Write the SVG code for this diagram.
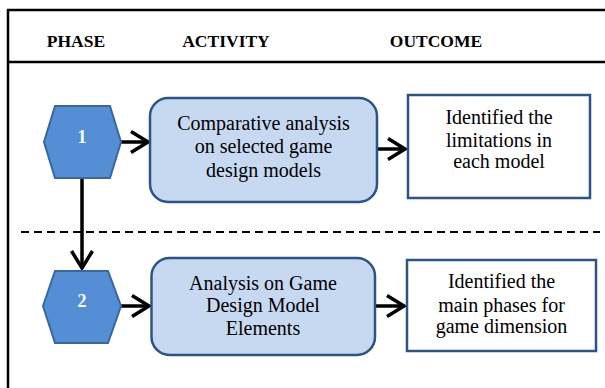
<svg xmlns="http://www.w3.org/2000/svg" width="605" height="388" viewBox="0 0 605 388">
  <style>
    text { font-family: 'Liberation Serif', 'DejaVu Serif', 'Times New Roman', Times, serif; }
    .hdr { font-weight: bold; font-size: 17.5px; fill: #000; text-anchor: middle; }
    .txt { font-size: 20px; fill: #000; text-anchor: middle; }
    .num { font-weight: bold; font-size: 18px; fill: #fff; text-anchor: middle; }
    .hex { fill: #558ED5; stroke: #3B669E; stroke-width: 2; }
    .act { fill: #C6D9F1; stroke: #2E5387; stroke-width: 2.5; }
    .out { fill: #fff; stroke: #2E5387; stroke-width: 2.5; }
    .frame { fill: none; stroke: #000; stroke-width: 2.5; }
    .conn { fill: none; stroke: #000; stroke-width: 3.5; marker-end: url(#chev); }
  </style>
  <defs>
    <marker id="chev" markerUnits="userSpaceOnUse" viewBox="0 0 22 26" markerWidth="22" markerHeight="26" refX="19" refY="13" orient="auto">
      <path d="M2,2.5 L19,13 L2,23.5" fill="none" stroke="#000" stroke-width="3.5" stroke-linejoin="miter"/>
    </marker>
  </defs>
  <rect x="0" y="0" width="605" height="388" fill="#fff"/>
  <g id="frame">
    <path class="frame" d="M605,10 L8,10 L8,388"/>
    <line class="frame" x1="8" y1="62" x2="605" y2="62"/>
    <line x1="21" y1="232" x2="600" y2="232" stroke="#000" stroke-width="2" stroke-dasharray="8,5"/>
  </g>
  <g id="headers">
    <text class="hdr" x="76" y="47">PHASE</text>
    <text class="hdr" x="226" y="47">ACTIVITY</text>
    <text class="hdr" x="436" y="47">OUTCOME</text>
  </g>
  <g id="connectors">
    <line class="conn" x1="121" y1="142" x2="148" y2="142"/>
    <line class="conn" x1="377" y1="149" x2="405" y2="149"/>
    <line class="conn" x1="82" y1="178" x2="82" y2="268"/>
    <line class="conn" x1="121" y1="306" x2="149" y2="306"/>
    <line class="conn" x1="376" y1="306" x2="404" y2="306"/>
  </g>
  <g id="phase1">
    <polygon class="hex" points="44,142 55,106 110,106 121,142 110,178 55,178"/>
    <text class="num" x="82" y="143">1</text>
  </g>
  <g id="activity1">
    <rect class="act" x="150" y="98" width="227" height="104" rx="18" ry="18"/>
    <text class="txt" x="263.5" y="130">Comparative analysis</text>
    <text class="txt" x="263.5" y="153">on selected game</text>
    <text class="txt" x="263.5" y="176.5">design models</text>
  </g>
  <g id="outcome1">
    <rect class="out" x="408" y="95" width="182" height="103"/>
    <text class="txt" x="499" y="124">Identified the</text>
    <text class="txt" x="499" y="146.5">limitations in</text>
    <text class="txt" x="499" y="168">each model</text>
  </g>
  <g id="phase2">
    <polygon class="hex" points="43,306 55,271 108,271 121,306 108,343 55,343"/>
    <text class="num" x="82" y="307">2</text>
  </g>
  <g id="activity2">
    <rect class="act" x="151.5" y="258" width="223.5" height="97" rx="18" ry="18"/>
    <text class="txt" x="263" y="290">Analysis on Game</text>
    <text class="txt" x="263" y="312">Design Model</text>
    <text class="txt" x="263" y="335">Elements</text>
  </g>
  <g id="outcome2">
    <rect class="out" x="407" y="260" width="189" height="91"/>
    <text class="txt" x="501.5" y="288">Identified the</text>
    <text class="txt" x="501.5" y="311.5">main phases for</text>
    <text class="txt" x="501.5" y="333">game dimension</text>
  </g>
</svg>
